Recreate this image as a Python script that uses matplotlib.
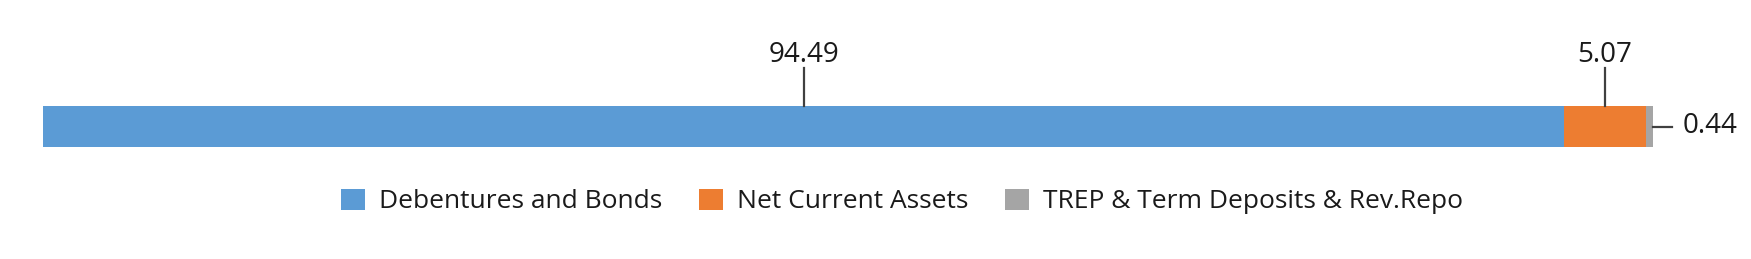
import matplotlib
matplotlib.use("Agg")
import matplotlib.pyplot as plt
from matplotlib.patches import Patch

# composicion de la cartera (%)
categorias = ["Debentures and Bonds", "Net Current Assets", "TREP & Term Deposits & Rev.Repo"]
valores = [94.49, 5.07, 0.44]
etiquetas = ["94.49", "5.07", "0.44"]
colores = ["#5B9BD5", "#ED7D31", "#A5A5A5"]

plt.rcParams['font.family'] = ['Open Sans', 'DejaVu Sans']
texto = "#1a1a1a"
linea = "#404040"

fig = plt.figure(figsize=(17.51, 2.59), dpi=100)
ax = fig.add_axes([43.3 / 1751, 0, 1609.4 / 1751, 1])

izq = 0
for cat, v, c in zip(categorias, valores, colores):
    ax.barh(0, v, left=izq, height=1, color=c, label=cat)
    izq += v

ax.set_xlim(0, 100)
ax.set_ylim(-132.5 / 41, 126.5 / 41)

# etiquetas con lineas guia
izq = 0
for i, v in enumerate(valores):
    medio = izq + v / 2
    if i < 2:
        ax.plot([medio, medio], [0.5, 1.43], color=linea, lw=1.6, clip_on=False)
        ax.text(medio, 1.58, etiquetas[i], ha="center", va="baseline", fontsize=20, color=texto)
    else:
        fin = izq + v
        ax.plot([fin, fin + 1.2], [0, 0], color=linea, lw=1.6, clip_on=False)
        ax.text(fin + 1.85, -0.16, etiquetas[i], ha="left", va="baseline", fontsize=20,
                color=texto, clip_on=False)
    izq += v

ax.axis("off")

handles = [Patch(facecolor=c, label=l) for l, c in zip(categorias, colores)]
fig.legend(handles=handles, loc="center", bbox_to_anchor=(902 / 1751, 57.5 / 259), ncol=3,
           frameon=False, fontsize=19, handlelength=0.94, handleheight=0.87,
           handletextpad=0.53, columnspacing=1.36, labelcolor=texto,
           borderpad=0, borderaxespad=0)

fig.savefig("out.png", dpi=100)
